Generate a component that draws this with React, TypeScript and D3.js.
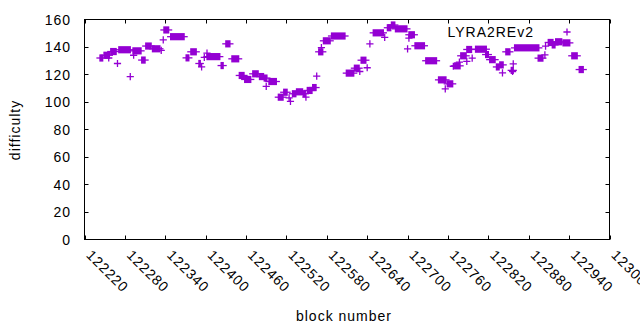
import * as React from 'react'
import { useEffect, useRef } from 'react'
import * as d3 from 'd3'

// runs of consecutive blocks sharing (about) the same difficulty: [firstBlock, lastBlock, difficulty]
const runs: [number, number, number][] = [
  [122243, 122247, 132], [122249, 122257, 134], [122259, 122267, 136.7], [122271, 122288, 138],
  [122292, 122304, 137.2], [122305, 122310, 130.5], [122311, 122319, 140.7], [122321, 122332, 138.7],
  [122338, 122345, 152.4], [122348, 122368, 147.5], [122371, 122375, 132.1], [122378, 122386, 136.5],
  [122390, 122392, 128], [122402, 122421, 133], [122423, 122426, 126.5], [122430, 122436, 142.3],
  [122439, 122449, 131.4], [122450, 122457, 119.3], [122458, 122467, 116.4], [122470, 122478, 120.5],
  [122480, 122486, 118.5], [122487, 122491, 117.4], [122494, 122505, 114.9], [122508, 122515, 103.5],
  [122516, 122521, 107.1], [122529, 122534, 106], [122535, 122544, 107.4], [122545, 122548, 106],
  [122551, 122558, 108.4], [122559, 122564, 110.5], [122568, 122574, 136.5], [122575, 122585, 144.5],
  [122587, 122607, 148], [122609, 122620, 121], [122621, 122628, 124.6], [122631, 122638, 130.4],
  [122649, 122664, 150.3], [122670, 122675, 154], [122676, 122681, 156], [122682, 122699, 153.2],
  [122702, 122710, 148.9], [122711, 122725, 140.9], [122727, 122743, 130], [122746, 122757, 116.1],
  [122759, 122767, 113.2], [122770, 122778, 126.3], [122779, 122787, 133.6], [122788, 122795, 138.2],
  [122801, 122817, 138.4], [122816, 122820, 134.5], [122822, 122830, 130.8], [122832, 122836, 125.5],
  [122837, 122842, 127], [122846, 122852, 136.5], [122854, 122857, 123], [122859, 122895, 139.4],
  [122894, 122901, 131.9], [122909, 122916, 143.3], [122915, 122919, 141.5], [122920, 122929, 143.8],
  [122931, 122941, 143], [122944, 122952, 133.6], [122955, 122961, 123.6],
]

// lone blocks: [block, difficulty]
const singles: [number, number][] = [
  [122256, 132], [122269, 128], [122288, 118.5], [122293, 134], [122334, 137.5], [122337, 145.2],
  [122394, 125.5], [122398, 132.4], [122402, 135.5], [122490, 111.3], [122524, 103], [122526, 100.5],
  [122549, 103.5], [122565, 118.8], [122572, 139.5], [122629, 122.2], [122640, 124.9], [122644, 142.3],
  [122666, 147], [122700, 138.7], [122702, 146.4], [122756, 109.5], [122768, 126], [122777, 129],
  [122788, 129.5], [122796, 131.9], [122841, 121.2], [122856, 122.2], [122857, 127.8], [122904, 134.3],
  [122905, 140.6],
]

const xTicks = d3.range(122220, 123001, 60)
const yTicks = [0, 20, 40, 60, 80, 100, 120, 140, 160]
const seriesName = 'LYRA2REv2'

const W = 640, H = 330
const color = '#9400d3'
const font = '"Liberation Sans", Arial, sans-serif'

const App = () => {
  const chartRef = useRef<SVGSVGElement>(null)

  useEffect(() => {
    const svg = d3.select(chartRef.current)
    svg.selectAll('*').remove()

    const x = d3.scaleLinear().domain([122220, 123000]).range([84.5, 609.5])
    const y = d3.scaleLinear().domain([0, 160]).range([239.5, 19.5])
    const ps = 3.6 // half size of the "+" point

    svg.append('rect').attr('width', W).attr('height', H).attr('fill', 'white')

    // ticks (inward, mirrored)
    const tk = svg.append('g').attr('stroke', 'black').attr('stroke-width', 1)
    xTicks.forEach(t => {
      const xx = Math.round(x(t)) + 0.5
      tk.append('line').attr('x1', xx).attr('x2', xx).attr('y1', y(0)).attr('y2', y(0) - 4)
      tk.append('line').attr('x1', xx).attr('x2', xx).attr('y1', y(160)).attr('y2', y(160) + 4)
    })
    yTicks.forEach(t => {
      const yy = Math.round(y(t) - 0.5) + 0.5
      tk.append('line').attr('x1', x.range()[0]).attr('x2', x.range()[0] + 4).attr('y1', yy).attr('y2', yy)
      tk.append('line').attr('x1', x.range()[1]).attr('x2', x.range()[1] - 4).attr('y1', yy).attr('y2', yy)
    })

    // tick labels
    svg.append('g').selectAll('text').data(yTicks).enter().append('text')
      .attr('x', 71).attr('y', d => y(d)).attr('dy', '0.36em')
      .attr('text-anchor', 'end')
      .style('font-family', font).style('font-size', '14px').style('letter-spacing', '1px')
      .attr('fill', '#000')
      .text(d => d)

    svg.append('g').selectAll('text').data(xTicks).enter().append('text')
      .attr('transform', d => `translate(${x(d) + 1}, 256) rotate(45)`)
      .attr('text-anchor', 'start')
      .style('font-family', font).style('font-size', '14px').style('letter-spacing', '1px')
      .attr('fill', '#000')
      .text(d => d)

    // axis titles
    svg.append('text')
      .attr('transform', 'translate(20, 130) rotate(-90)')
      .attr('text-anchor', 'middle')
      .style('font-family', font).style('font-size', '14px').style('letter-spacing', '1px')
      .text('difficulty')

    svg.append('text')
      .attr('x', 344).attr('y', 320.5)
      .attr('text-anchor', 'middle')
      .style('font-family', font).style('font-size', '14px').style('letter-spacing', '1px')
      .text('block number')

    // points
    const pts = svg.append('g')
    runs.forEach(([b0, b1, d]) => {
      pts.append('rect')
        .attr('x', x(b0) - 0.65).attr('width', x(b1) - x(b0) + 1.3)
        .attr('y', y(d) - ps).attr('height', ps * 2)
        .attr('fill', color)
      pts.append('line')
        .attr('x1', x(b0) - ps).attr('x2', x(b1) + ps)
        .attr('y1', y(d)).attr('y2', y(d))
        .attr('stroke', color).attr('stroke-width', 1.3)
    })
    const plus = (cx: number, cy: number) => {
      pts.append('path')
        .attr('d', `M${cx - ps},${cy}H${cx + ps}M${cx},${cy - ps}V${cy + ps}`)
        .attr('stroke', color).attr('stroke-width', 1.3).attr('fill', 'none')
    }
    singles.forEach(([b, d]) => plus(x(b), y(d)))

    // key
    svg.append('text')
      .attr('x', 534).attr('y', 37)
      .attr('text-anchor', 'end')
      .style('font-family', font).style('font-size', '14px').style('letter-spacing', '1px')
      .text(seriesName)
    plus(567, 32)

    // border
    svg.append('rect')
      .attr('x', x.range()[0]).attr('y', y(160))
      .attr('width', x.range()[1] - x.range()[0]).attr('height', y(0) - y(160))
      .attr('fill', 'none').attr('stroke', 'black').attr('stroke-width', 1)
  }, [])

  return (
    <svg ref={chartRef} width={W} height={H} style={{ position: 'absolute', left: 0, top: 0 }}></svg>
  )
}

export default App
